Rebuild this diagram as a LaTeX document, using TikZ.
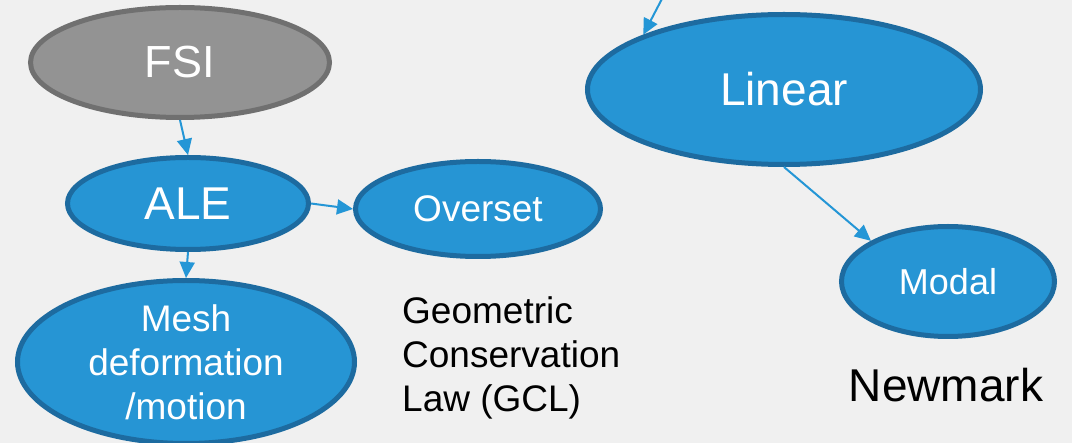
\documentclass[tikz,border=0pt]{standalone}
\usepackage{fontspec}
\setmainfont{Liberation Sans}
\usetikzlibrary{shapes.geometric,arrows.meta}

\definecolor{bgpaper}{HTML}{F0F0F0}
\definecolor{bluefill}{HTML}{2695D4}
\definecolor{blueedge}{HTML}{1D6BA0}
\definecolor{grayfill}{HTML}{939393}
\definecolor{grayedge}{HTML}{707070}
\definecolor{linkblue}{HTML}{2496D6}

\tikzset{
  topic/.style={ellipse, draw=blueedge, fill=bluefill, line width=5pt,
    inner sep=0pt, text=white, align=center},
  roottopic/.style={topic, draw=grayedge, fill=grayfill},
  link/.style={draw=linkblue, line width=2pt,
    -{Triangle[length=16pt,width=15pt]}},
  note/.style={inner sep=0pt, text=black},
  fs/.style={font=\fontsize{#1}{44}\selectfont}
}

\begin{document}
\begin{tikzpicture}[x=1pt,y=-1pt]
  % page and background
  \fill[bgpaper] (0,0) rectangle (1072,443);
  \useasboundingbox (0,0) rectangle (1072,443);

  % topics
  \node[roottopic, fs=45, minimum width=299pt, minimum height=110pt] (fsi) at (180,62.5) {FSI};
  \node[topic, fs=46, minimum width=241pt, minimum height=92pt] (ale) at (188,203.5) {ALE};
  \node[topic, fs=37, minimum width=245pt, minimum height=95pt] (overset) at (478,209) {Overset};
  \node[topic, fs=37, minimum width=337pt, minimum height=163pt, text depth=0pt] (mesh) at (186,362) {Mesh\\deformation\\/motion};
  \node[topic, fs=46, minimum width=393pt, minimum height=150pt] (linear) at (784,89.5) {Linear};
  \node[topic, fs=36, minimum width=213pt, minimum height=110pt] (modal) at (948,281.5) {Modal};

  % free notes
  \node[note, fs=37, align=left, anchor=north west] (gcl) at (402,296) {Geometric\\Conservation\\Law (GCL)};
  \node[note, fs=46, anchor=base] (newmark) at (946,402) {Newmark};

  % links
  \coordinate (linearin) at (664.5,-6);
  \draw[link] (fsi.south) -- (ale.north);
  \draw[link] (ale.east) -- (overset.west);
  \draw[link] (ale.south) -- (mesh.north);
  \draw[link] (linearin) -- (linear.north west);
  \draw[link] (linear.south) -- (modal.north west);
\end{tikzpicture}
\end{document}
